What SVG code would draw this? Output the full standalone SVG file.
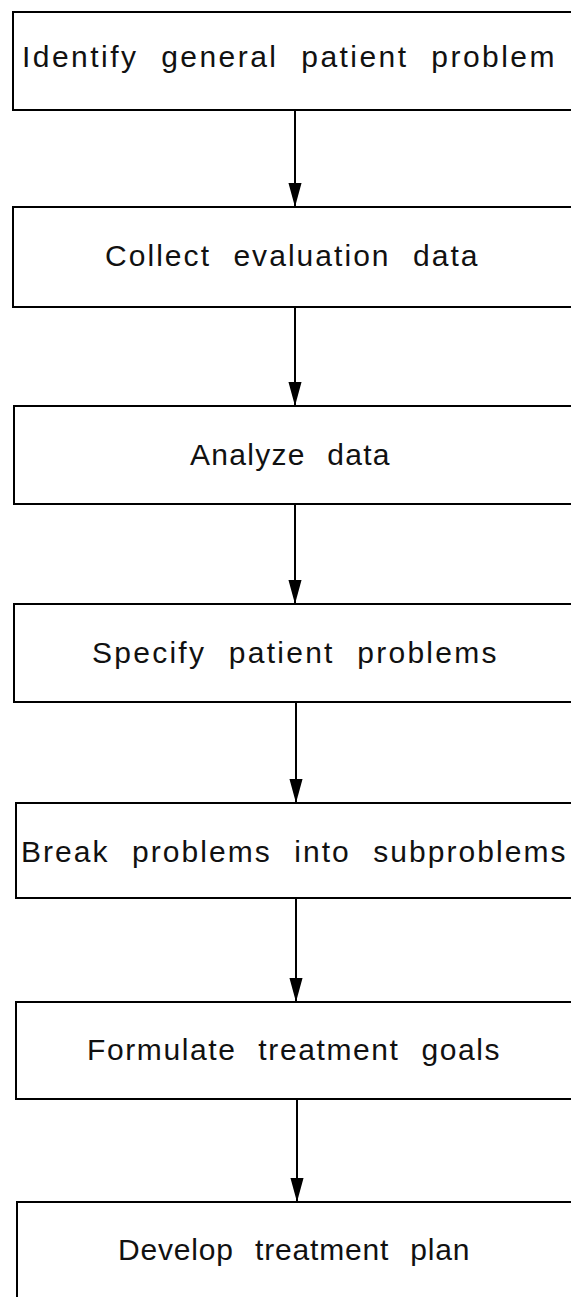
<svg xmlns="http://www.w3.org/2000/svg" width="571" height="1297" viewBox="0 0 571 1297">
  <defs>
    <style>
      .box { fill: #ffffff; stroke: #000000; stroke-width: 2; }
      .label { font-family: "Liberation Sans", Arial, Helvetica, sans-serif; font-size: 30px; fill: #111111; word-spacing: 12px; letter-spacing: 0.5px; }
      .flow { stroke: #000000; stroke-width: 2; fill: none; marker-end: url(#arrowhead); }
    </style>
    <marker id="arrowhead" markerUnits="userSpaceOnUse" markerWidth="24" markerHeight="14" viewBox="0 0 22 12" refX="22" refY="6" orient="auto">
      <path d="M0,0 L22,6 L0,12 z" fill="#000000"/>
    </marker>
  </defs>
  <rect x="0" y="0" width="571" height="1297" fill="#ffffff"/>

  <!-- process steps; boxes run off the right edge of the page -->
  <g id="step-identify">
    <rect class="box" x="13" y="12" width="570" height="98"/>
    <text class="label" x="22" y="67" textLength="533" lengthAdjust="spacing">Identify general patient problem</text>
  </g>
  <g id="step-collect">
    <rect class="box" x="13" y="207" width="570" height="100"/>
    <text class="label" x="105" y="266" textLength="373" lengthAdjust="spacing">Collect evaluation data</text>
  </g>
  <g id="step-analyze">
    <rect class="box" x="14" y="406" width="570" height="98"/>
    <text class="label" x="190" y="465" textLength="200" lengthAdjust="spacing">Analyze data</text>
  </g>
  <g id="step-specify">
    <rect class="box" x="14" y="604" width="570" height="98"/>
    <text class="label" x="92" y="663" textLength="405" lengthAdjust="spacing">Specify patient problems</text>
  </g>
  <g id="step-break">
    <rect class="box" x="16" y="803" width="570" height="95"/>
    <text class="label" x="21" y="862" textLength="545" lengthAdjust="spacing">Break problems into subproblems</text>
  </g>
  <g id="step-formulate">
    <rect class="box" x="16" y="1002" width="570" height="97"/>
    <text class="label" x="87" y="1060" textLength="413" lengthAdjust="spacing">Formulate treatment goals</text>
  </g>
  <g id="step-develop">
    <path class="box" d="M17,1300 L17,1202 L590,1202" fill="none"/>
    <text class="label" x="118" y="1260" textLength="352" lengthAdjust="spacing">Develop treatment plan</text>
  </g>

  <!-- connectors between consecutive steps -->
  <g id="connectors">
    <line class="flow" x1="295" y1="110" x2="295" y2="207"/>
    <line class="flow" x1="295" y1="307" x2="295" y2="406"/>
    <line class="flow" x1="295" y1="504" x2="295" y2="604"/>
    <line class="flow" x1="296" y1="702" x2="296" y2="803"/>
    <line class="flow" x1="296" y1="898" x2="296" y2="1002"/>
    <line class="flow" x1="297" y1="1099" x2="297" y2="1202"/>
  </g>
</svg>
